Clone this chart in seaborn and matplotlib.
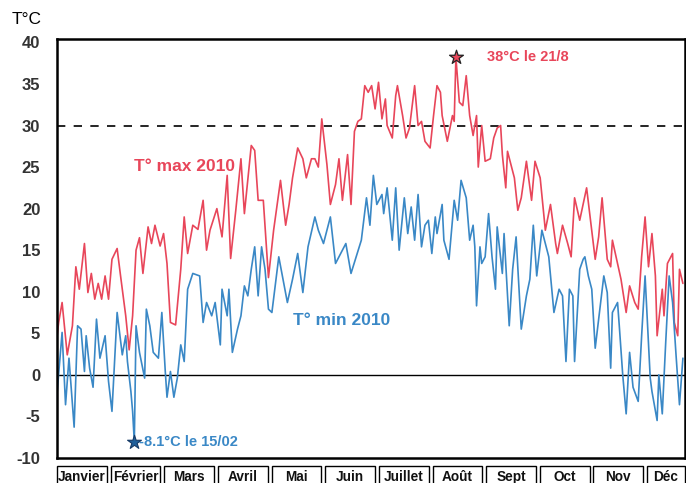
import matplotlib
matplotlib.use("Agg")
import matplotlib.pyplot as plt
from matplotlib.patches import Rectangle
import matplotlib.transforms as mtransforms
import seaborn as sns
import pandas as pd

# ---- data (day of year 0..364, temperature in °C) ----
max_days = [0, 1, 3, 6, 9, 11, 13, 16, 18, 20, 22, 24, 26, 28, 30, 32, 35, 37, 40, 42,
            44, 46, 48, 50, 53, 55, 57, 60, 62, 64, 66, 69, 72, 74, 76, 79, 82, 85, 87, 89,
            93, 96, 99, 101, 104, 107, 109, 113, 115, 117, 120, 123, 126, 130, 133, 135, 137, 140, 143, 145,
            148, 150, 152, 154, 157, 159, 162, 164, 166, 169, 171, 173, 175, 177, 179, 181, 183, 185, 187, 189,
            191, 192, 195, 197, 198, 201, 203, 205, 208, 210, 212, 214, 217, 219, 221, 223, 224, 227, 230, 231,
            232, 234, 236, 238, 240, 242, 244, 245, 247, 249, 252, 254, 256, 258, 259, 261, 262, 264, 266, 268,
            270, 273, 276, 278, 281, 284, 287, 290, 291, 294, 297, 299, 301, 304, 308, 313, 315, 317, 320, 322,
            323, 326, 328, 331, 333, 336, 338, 340, 342, 344, 346, 348, 349, 352, 353, 355, 358, 359, 361, 362, 364]
max_vals = [4.5, 6.3, 8.7, 2.4, 5.9, 13.0, 10.3, 15.8, 9.9, 12.2, 9.1, 11.0, 9.1, 11.9, 9.1, 13.9, 15.2, 11.9, 7.1, 3.0,
            7.1, 15.0, 16.5, 12.2, 17.8, 15.8, 18.0, 15.5, 17.0, 13.4, 6.3, 6.0, 12.7, 19.0, 14.6, 18.0, 17.5, 21.0, 15.0, 17.4,
            20.0, 16.6, 24.0, 14.0, 19.8, 26.0, 19.4, 27.6, 27.0, 21.0, 21.0, 11.7, 17.4, 23.4, 18.0, 20.5, 23.7, 27.3, 26.0, 23.7,
            26.0, 26.0, 25.0, 30.8, 25.3, 20.5, 22.9, 26.0, 21.0, 26.5, 20.5, 29.3, 30.5, 30.8, 34.8, 34.0, 34.8, 32.0, 35.2, 30.8,
            33.2, 30.0, 28.5, 33.6, 34.8, 31.2, 28.5, 29.7, 34.8, 30.0, 30.5, 28.1, 27.3, 31.2, 34.8, 34.0, 31.2, 28.1, 31.2, 30.5,
            38.2, 32.8, 32.4, 36.0, 31.2, 28.8, 31.2, 25.0, 30.0, 25.7, 26.0, 28.5, 29.7, 30.0, 26.5, 22.5, 26.9, 25.3, 23.7, 19.8,
            21.3, 25.7, 21.0, 25.7, 23.7, 17.4, 20.5, 15.8, 14.6, 18.0, 15.8, 14.2, 21.3, 18.6, 22.5, 13.9, 16.6, 21.3, 13.9, 13.0,
            16.2, 13.4, 11.5, 7.5, 10.7, 8.7, 7.9, 14.2, 19.0, 13.0, 17.0, 11.9, 4.7, 10.3, 7.1, 13.4, 14.6, 6.3, 4.7, 12.7, 11.0]

min_days = [0, 3, 5, 7, 10, 12, 14, 16, 17, 19, 21, 23, 25, 28, 30, 32, 35, 38, 40, 41,
            43, 44, 45, 46, 48, 51, 52, 54, 56, 59, 61, 63, 64, 66, 68, 70, 72, 74, 76, 79,
            83, 85, 87, 90, 92, 95, 96, 99, 100, 102, 105, 107, 109, 111, 113, 115, 117, 119, 121, 123,
            125, 129, 134, 137, 140, 143, 146, 150, 152, 155, 159, 162, 165, 168, 171, 174, 177, 180, 182, 184,
            186, 189, 190, 192, 195, 197, 199, 202, 204, 206, 208, 210, 212, 214, 216, 218, 220, 221, 224, 225,
            228, 231, 233, 235, 238, 240, 242, 243, 244, 246, 247, 249, 251, 253, 255, 256, 259, 260, 263, 265,
            267, 270, 273, 275, 277, 279, 282, 284, 286, 289, 292, 294, 296, 298, 300, 301, 304, 306, 307, 309,
            311, 313, 315, 318, 320, 322, 323, 326, 327, 329, 331, 333, 335, 338, 340, 342, 345, 346, 349, 350,
            352, 354, 356, 358, 360, 362, 364]
min_vals = [-2.4, 5.1, -3.6, 2.0, -6.3, 5.9, 5.5, 0.4, 4.7, 0.8, -1.5, 6.7, 2.0, 4.7, -0.8, -4.4, 7.5, 2.4, 4.7, 1.6,
            -2.0, -4.4, -8.1, 5.9, 2.7, -0.4, 7.9, 5.9, 2.7, 2.0, 7.5, 0.4, -2.7, 0.4, -2.7, -0.4, 3.6, 1.6, 10.3, 12.2,
            11.9, 6.3, 8.7, 7.1, 8.7, 3.6, 10.3, 7.1, 10.3, 2.7, 5.5, 7.1, 10.7, 9.5, 12.7, 15.4, 9.5, 15.4, 12.7, 7.9,
            7.5, 14.2, 8.7, 11.5, 14.6, 9.9, 15.4, 19.0, 17.4, 15.8, 19.0, 13.4, 14.6, 15.8, 12.2, 14.2, 16.2, 21.3, 18.0, 24.0,
            20.5, 21.7, 19.4, 22.5, 16.2, 22.5, 15.0, 21.3, 17.0, 20.2, 16.2, 21.7, 15.4, 18.0, 18.6, 14.6, 19.0, 17.0, 20.5, 16.2,
            13.9, 21.0, 18.6, 23.4, 21.3, 16.2, 18.0, 15.4, 8.3, 15.4, 13.4, 14.2, 19.4, 14.2, 10.3, 17.8, 12.2, 17.0, 5.9, 12.7,
            16.6, 5.5, 9.5, 11.5, 18.0, 11.9, 17.4, 15.8, 14.2, 7.5, 10.3, 9.5, 1.6, 10.3, 9.5, 1.6, 12.7, 13.9, 14.2, 11.9,
            10.3, 3.2, 6.7, 11.9, 9.9, 0.8, 7.5, 8.7, 5.9, 0.0, -4.7, 2.7, -1.5, -3.2, 4.7, 11.9, -0.4, -2.0, -5.5, 0.0,
            -4.7, 3.9, 11.9, 8.7, 2.4, -3.6, 2.0]

months = ["Janvier", "Février", "Mars", "Avril", "Mai", "Juin", "Juillet",
          "Août", "Sept", "Oct", "Nov", "Déc"]
yticks = [-10, -5, 0, 5, 10, 15, 20, 25, 30, 35, 40]

record_max = (232, 38.2, "38°C le 21/8")
record_min = (45, -8.1, "-8.1°C le 15/02")

RED = "#e8465a"
BLUE = "#3a88c6"

sns.set_style("white")
plt.rcParams["font.family"] = ["Liberation Sans", "DejaVu Sans"]

df_max = pd.DataFrame({"day": max_days, "t": max_vals})
df_min = pd.DataFrame({"day": min_days, "t": min_vals})

fig = plt.figure(figsize=(6.86, 4.83), dpi=100)
ax = fig.add_axes([0.083, 0.052, 0.915, 0.867])

sns.lineplot(data=df_max, x="day", y="t", ax=ax, color=RED, linewidth=1.2, estimator=None)
sns.lineplot(data=df_min, x="day", y="t", ax=ax, color=BLUE, linewidth=1.2, estimator=None)

ax.axhline(0, color="black", linewidth=1.0, zorder=1)
ax.axhline(30, color="black", linewidth=1.2, linestyle=(0, (5, 5)), zorder=1)

ax.set_xlim(0, 365)
ax.set_ylim(-9.3, 40.4)
ax.set_yticks(yticks)
ax.set_yticklabels([str(v) for v in yticks], fontsize=12, fontweight="bold", color="#333333")
ax.set_xticks([])
ax.tick_params(axis="y", length=0, pad=12)
ax.set_xlabel("")
ax.set_ylabel("")
for s in ax.spines.values():
    s.set_color("black")
    s.set_linewidth(1.8)

# records
ax.scatter([record_max[0]], [record_max[1]], marker="*", s=110, color=RED,
           edgecolor="#222222", linewidth=0.9, zorder=5)
ax.text(record_max[0] + 18, record_max[1], record_max[2], color=RED, fontsize=10.5,
        fontweight="bold", va="center", ha="left")
ax.scatter([record_min[0]], [record_min[1]], marker="*", s=110, color="#1f5f9a",
           edgecolor="#163a66", linewidth=0.8, zorder=5)
ax.text(record_min[0] + 3, record_min[1], record_min[2], color=BLUE, fontsize=10.5,
        fontweight="bold", va="center", ha="left")

ax.text(45, 25.1, "T° max 2010", color=RED, fontsize=12.5, fontweight="bold", va="center", ha="left")
ax.text(137, 6.5, "T° min 2010", color=BLUE, fontsize=12.5, fontweight="bold", va="center", ha="left")

fig.text(12 / 686, 1 - 20 / 483, "T°C", fontsize=12.5, color="black", va="center", ha="left")

# month boxes below the axis
trans = mtransforms.blended_transform_factory(ax.transData, ax.transAxes)
step = 31.2
for i, m in enumerate(months):
    x0 = i * step
    x1 = min(x0 + 29, 365)
    ax.add_patch(Rectangle((x0, -0.075), x1 - x0, 0.055, transform=trans, clip_on=False,
                           facecolor="white", edgecolor="black", linewidth=1.0))
    ax.text((x0 + x1) / 2, -0.045, m, transform=trans, ha="center", va="center",
            fontsize=9.8, fontweight="bold", color="#111111", clip_on=False)

fig.savefig("out.png", dpi=100)
